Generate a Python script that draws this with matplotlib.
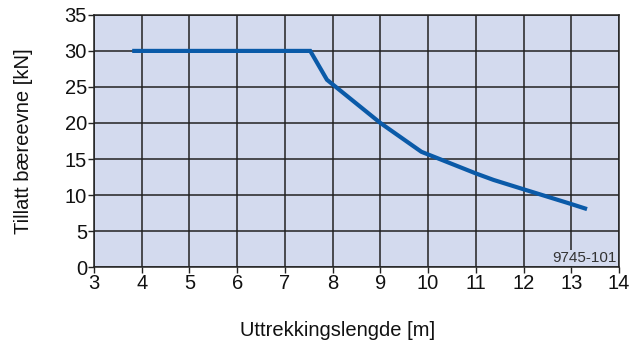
import matplotlib
matplotlib.use("Agg")
import matplotlib.pyplot as plt

plt.rcParams['font.family'] = ['Liberation Sans', 'DejaVu Sans']

# Allowed load versus extension length
extension_m = [3.8, 7.53, 7.88, 9.0, 9.86, 11.0, 11.37, 12.0, 13.0, 13.33]
load_kn = [30.0, 30.0, 26.0, 20.0, 16.0, 13.0, 12.1, 10.8, 8.75, 8.05]

x_ticks = list(range(3, 15))
y_ticks = list(range(0, 40, 5))

bg = '#d3daee'
line_col = '#0a5aa8'

fig = plt.figure(figsize=(6.31, 3.46), dpi=100)
ax = fig.add_axes([0.149, 0.228, 0.832, 0.729])
ax.set_facecolor(bg)

ax.plot(extension_m, load_kn, color=line_col, lw=3, solid_joinstyle='miter',
        solid_capstyle='butt', zorder=3)

ax.set_xlim(3, 14)
ax.set_ylim(0, 35)
ax.set_xticks(x_ticks)
ax.set_yticks(y_ticks)
ax.grid(True, color='#222222', lw=1.1, zorder=1)
ax.set_axisbelow(True)
for s in ax.spines.values():
    s.set_color('#222222')
    s.set_linewidth(1.1)

ax.tick_params(axis='both', labelsize=14.5, color='#222222', length=4,
               width=1, labelcolor='#111111', pad=1)

ax.set_xlabel('Uttrekkingslengde [m]', fontsize=14.5, color='#111111')
ax.xaxis.set_label_coords(0.464, -0.215)
ax.set_ylabel('Tillatt bæreevne [kN]', fontsize=14.5, color='#111111', labelpad=23)

ax.text(13.96, 0.3, '9745-101', ha='right', va='bottom', fontsize=11,
        color='#333333', family=['Liberation Sans Narrow', 'Liberation Sans'],
        bbox=dict(facecolor=bg, edgecolor='none', pad=0.5), zorder=4)

fig.savefig('out.png', dpi=100)
